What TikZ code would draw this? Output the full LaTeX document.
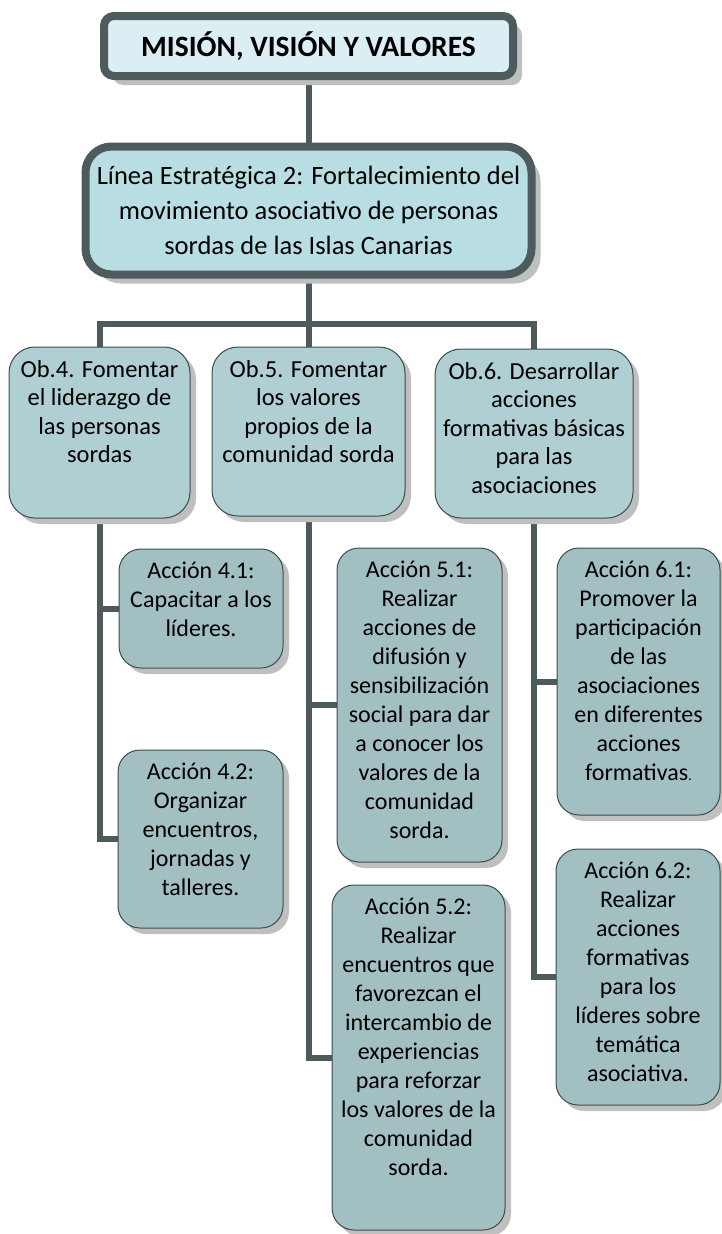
\documentclass[tikz,border=0pt]{standalone}
\usepackage{fontspec}
\setmainfont{Carlito}
\usetikzlibrary{shadows,backgrounds}
\definecolor{frame}{HTML}{4D5B5C}
\definecolor{thinframe}{HTML}{3E4C4D}
\definecolor{titlefill}{HTML}{DBEEF3}
\definecolor{linefill}{HTML}{B8DEE3}
\definecolor{obfill}{HTML}{AFCFD3}
\definecolor{accfill}{HTML}{A2BFC2}
\definecolor{shadowgray}{HTML}{BFBFBF}
\newcommand{\celltext}[3]{\parbox[c][\dimexpr#2-26pt\relax][t]{\dimexpr#1-6pt\relax}{\centering #3\par}}
\tikzset{
  thickbox/.style={draw=frame, line width=8pt, inner sep=0pt, align=center,
    drop shadow={shadow xshift=9pt, shadow yshift=-9pt, fill=shadowgray, opacity=1}},
  obbox/.style={draw=thinframe, line width=1pt, fill=obfill, rounded corners=26pt, inner sep=0pt,
    drop shadow={shadow xshift=6pt, shadow yshift=-6pt, fill=shadowgray, opacity=1},
    font=\fontsize{24.5}{28.5}\selectfont},
  accbox/.style={draw=thinframe, line width=1pt, fill=accfill, rounded corners=22pt, inner sep=0pt,
    drop shadow={shadow xshift=6pt, shadow yshift=-6pt, fill=shadowgray, opacity=1},
    font=\fontsize{24}{29}\selectfont},
  conn/.style={draw=frame, line width=6pt}
}
\begin{document}
\begin{tikzpicture}[x=1pt,y=1pt]
\useasboundingbox (0,0) rectangle (721,-1234);
\node[thickbox, fill=titlefill, rounded corners=10pt, minimum width=409pt, minimum height=60pt,
  font=\bfseries\fontsize{29.5}{34}\selectfont] (top) at (308.5,-46) {MISIÓN, VISIÓN Y VALORES};
\node[thickbox, fill=linefill, rounded corners=26pt, minimum width=446pt, minimum height=128pt,
  font=\fontsize{26.5}{35}\selectfont] (line) at (308.5,-210.5)
  {Línea Estratégica 2: Fortalecimiento del\\movimiento asociativo de personas\\sordas de las Islas Canarias};
\node[obbox, minimum width=181pt, minimum height=171pt] (ob4) at (99.5,-432.5)
  {\celltext{181pt}{171pt}{Ob.4. Fomentar\\el liderazgo de\\las personas\\sordas}};
\node[obbox, minimum width=193pt, minimum height=169pt] (ob5) at (308.5,-431.5)
  {\celltext{193pt}{169pt}{Ob.5. Fomentar\\los valores\\propios de la\\comunidad sorda}};
\node[obbox, minimum width=198pt, minimum height=169pt] (ob6) at (534,-433.5)
  {\celltext{198pt}{169pt}{Ob.6. Desarrollar\\acciones\\formativas básicas\\para las\\asociaciones}};
\node[accbox, minimum width=164pt, minimum height=119pt] (a41) at (201,-608.5)
  {\celltext{164pt}{119pt}{Acción 4.1:\\Capacitar a los\\líderes.}};
\node[accbox, minimum width=165pt, minimum height=178pt] (a42) at (200.5,-839)
  {\celltext{165pt}{178pt}{Acción 4.2:\\Organizar\\encuentros,\\jornadas y\\talleres.}};
\node[accbox, minimum width=165pt, minimum height=314pt] (a51) at (419.5,-705)
  {\celltext{165pt}{314pt}{Acción 5.1:\\Realizar\\acciones de\\difusión y\\sensibilización\\social para dar\\a conocer los\\valores de la\\comunidad\\sorda.}};
\node[accbox, minimum width=173pt, minimum height=345pt] (a52) at (418.5,-1057.5)
  {\celltext{173pt}{345pt}{Acción 5.2:\\Realizar\\encuentros que\\favorezcan el\\intercambio de\\experiencias\\para reforzar\\los valores de la\\comunidad\\sorda.}};
\node[accbox, minimum width=163pt, minimum height=267pt] (a61) at (638.5,-681.5)
  {\celltext{163pt}{267pt}{Acción 6.1:\\Promover la\\participación\\de las\\asociaciones\\en diferentes\\acciones\\formativas{\fontsize{15}{15}\selectfont.}}};
\node[accbox, minimum width=164pt, minimum height=256pt] (a62) at (638,-977)
  {\celltext{164pt}{256pt}{Acción 6.2:\\Realizar\\acciones\\formativas\\para los\\líderes sobre\\temática\\asociativa.}};
\coordinate (bus) at (308.5,-324);
\begin{scope}[on background layer]
  \draw[conn] (top.south) -- (line.north);
  \draw[conn] (line.south) -- (bus);
  \draw[conn] (bus) -| (ob4.north);
  \draw[conn] (bus) -| (ob6.north);
  \draw[conn] (bus) -- (ob5.north);
  \draw[conn] (ob4.south) |- (a41.west);
  \draw[conn] (ob4.south) |- (a42.west);
  \draw[conn] (ob5.south) |- (a51.west);
  \draw[conn] (ob5.south) |- (a52.west);
  \draw[conn] (ob6.south) |- (a61.west);
  \draw[conn] (ob6.south) |- (a62.west);
\end{scope}
\end{tikzpicture}
\end{document}
